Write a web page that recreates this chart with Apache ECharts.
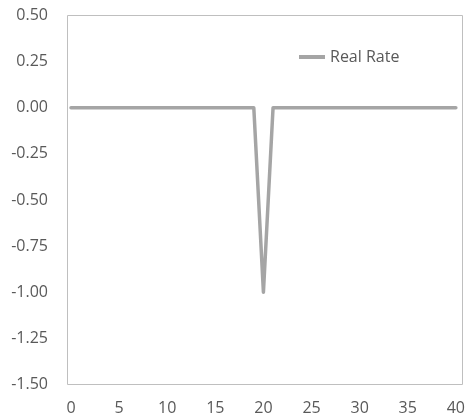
<!DOCTYPE html>
<html>
<head>
<meta charset="utf-8">
<script src="https://cdn.jsdelivr.net/npm/echarts@6/dist/echarts.min.js"></script>
<style>
  html, body { margin: 0; padding: 0; background: #ffffff; }
  #chart { width: 468px; height: 417px; }
</style>
</head>
<body>
<div id="chart"></div>
<script>
// Time steps and the real rate at each step
const steps = [0,1,2,3,4,5,6,7,8,9,10,11,12,13,14,15,16,17,18,19,20,21,22,23,24,25,26,27,28,29,30,31,32,33,34,35,36,37,38,39,40];
const realRate = [0,0,0,0,0,0,0,0,0,0,0,0,0,0,0,0,0,0,0,0,-1,0,0,0,0,0,0,0,0,0,0,0,0,0,0,0,0,0,0,0,0];
const seriesName = 'Real Rate';
const yTicks = { min: -1.5, max: 0.5, step: 0.25 };
const xTicks = { min: 0, max: 40, step: 5 };

const points = steps.map((s, i) => [s, realRate[i]]);
const font = '"Open Sans", sans-serif';

const chart = echarts.init(document.getElementById('chart'), null, { renderer: 'canvas' });
chart.setOption({
  animation: false,
  backgroundColor: '#ffffff',
  graphic: [{
    type: 'rect',
    shape: { x: 67.5, y: 15.5, width: 395, height: 369 },
    style: { fill: 'none', stroke: '#bfbfbf', lineWidth: 1 },
    z: 0
  }],
  grid: { left: 71, top: 15.5, width: 389, height: 369, containLabel: false },
  legend: {
    data: [{ name: seriesName, icon: 'rect' }],
    left: 294, top: 44,
    itemWidth: 26, itemHeight: 4,
    textStyle: { color: '#595959', fontFamily: font, fontSize: 16 }
  },
  xAxis: {
    type: 'value', min: xTicks.min, max: xTicks.max, interval: xTicks.step,
    axisLine: { show: false }, axisTick: { show: false }, splitLine: { show: false },
    axisLabel: { color: '#595959', fontFamily: font, fontSize: 16, margin: 16 }
  },
  yAxis: {
    type: 'value', min: yTicks.min, max: yTicks.max, interval: yTicks.step,
    axisLine: { show: false }, axisTick: { show: false }, splitLine: { show: false },
    axisLabel: {
      color: '#595959', fontFamily: font, fontSize: 16, margin: 23,
      formatter: v => v.toFixed(2)
    }
  },
  series: [{
    name: seriesName,
    type: 'line',
    data: points,
    symbol: 'none',
    color: '#a5a5a5',
    lineStyle: { color: '#a5a5a5', width: 3.5, cap: 'round', join: 'round' },
    z: 2
  }]
});
</script>
</body>
</html>
